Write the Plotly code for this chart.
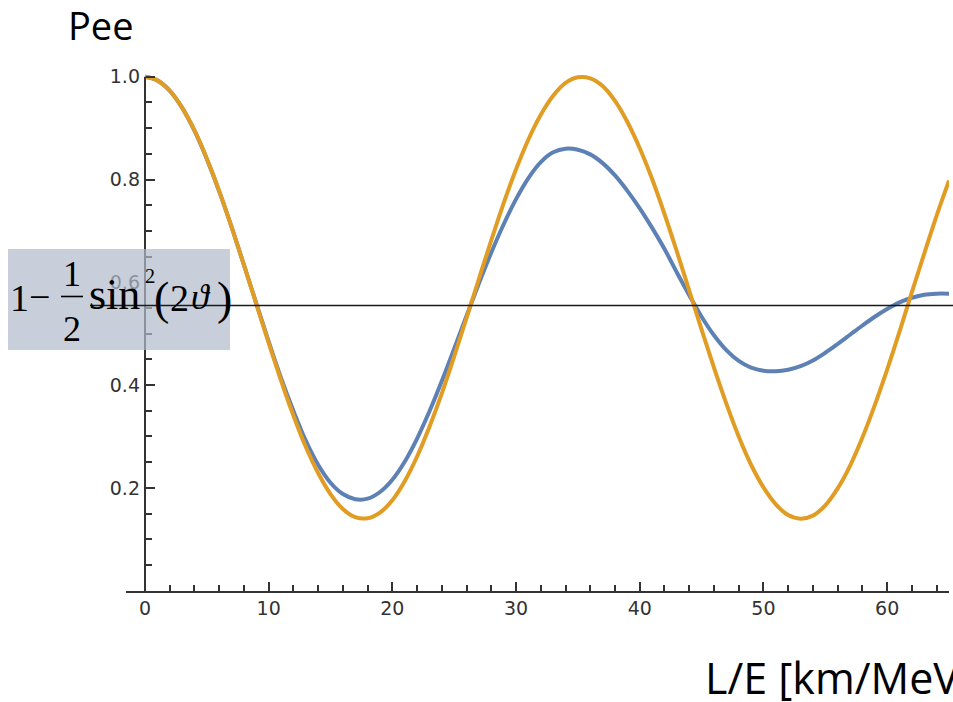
import plotly.graph_objects as go

# L/E grid in km/MeV
l_over_e = list(range(0, 66))

# Survival probability, monochromatic beam (orange)
pee_sharp = [
    1.000, 0.993, 0.973, 0.940, 0.896, 0.841, 0.778, 0.708, 0.634, 0.558,
    0.482, 0.409, 0.341, 0.280, 0.229, 0.188, 0.159, 0.143, 0.141, 0.152,
    0.176, 0.213, 0.261, 0.319, 0.384, 0.456, 0.531, 0.607, 0.682, 0.754,
    0.820, 0.878, 0.926, 0.963, 0.988, 0.999, 0.997, 0.982, 0.953, 0.912,
    0.861, 0.801, 0.733, 0.660, 0.584, 0.508, 0.434, 0.364, 0.300, 0.245,
    0.201, 0.168, 0.147, 0.140, 0.146, 0.166, 0.199, 0.243, 0.298, 0.361,
    0.430, 0.504, 0.581, 0.656, 0.730, 0.798,
]

# Survival probability averaged over the energy spread (blue)
pee_smeared = [
    1.000, 0.993, 0.973, 0.940, 0.895, 0.840, 0.777, 0.708, 0.634, 0.559,
    0.485, 0.414, 0.350, 0.292, 0.245, 0.210, 0.188, 0.178, 0.179, 0.192,
    0.216, 0.251, 0.296, 0.349, 0.408, 0.471, 0.535, 0.598, 0.658, 0.713,
    0.762, 0.803, 0.834, 0.853, 0.860, 0.858, 0.849, 0.832, 0.808, 0.778,
    0.744, 0.706, 0.665, 0.619, 0.575, 0.533, 0.497, 0.468, 0.447, 0.434,
    0.428, 0.427, 0.430, 0.437, 0.448, 0.463, 0.480, 0.498, 0.516, 0.533,
    0.548, 0.561, 0.570, 0.576, 0.578, 0.578,
]

# average level 1 - sin^2(2 theta)/2
mean_level = 0.555

y_ticks = [0.2, 0.4, 0.6, 0.8, 1.0]
y_tick_text = ["0.2", "0.4", "0.6", "0.8", "1.0"]

W, H = 953, 702


def px(x):
    return x / W


def py(y):
    return 1 - y / H


BLUE = "#5E81B5"
ORANGE = "#E19C24"
AXIS = "#333333"

fig = go.Figure()
fig.add_trace(go.Scatter(
    x=l_over_e, y=pee_smeared, mode="lines",
    line=dict(color=BLUE, width=4, shape="spline", smoothing=1.0),
    hoverinfo="skip", showlegend=False,
))
fig.add_trace(go.Scatter(
    x=l_over_e, y=pee_sharp, mode="lines",
    line=dict(color=ORANGE, width=4, shape="spline", smoothing=1.0),
    hoverinfo="skip", showlegend=False,
))

tick_font = dict(family="DejaVu Sans", size=19, color=AXIS)

fig.update_layout(
    width=W, height=H, autosize=False,
    margin=dict(l=0, r=0, t=0, b=0),
    paper_bgcolor="white", plot_bgcolor="white",
    xaxis=dict(
        range=[-1.5, 65], domain=[126.4 / W, 949 / W],
        tick0=0, dtick=10, ticks="inside", ticklen=9, tickwidth=1.6,
        tickcolor=AXIS, tickfont=tick_font,
        minor=dict(tick0=0, dtick=2, ticks="inside", ticklen=6,
                   tickwidth=1.6, tickcolor=AXIS),
        showgrid=False, zeroline=False,
        showline=True, linecolor=AXIS, linewidth=2,
    ),
    yaxis=dict(
        range=[0, 1.01], domain=[1 - 589.7 / H, 1 - 66.2 / H],
        anchor="free", position=145 / W,
        tickmode="array", tickvals=y_ticks, ticktext=y_tick_text,
        ticks="inside", ticklen=9, tickwidth=1.6, tickcolor=AXIS,
        tickfont=tick_font, ticklabelstandoff=5,
        minor=dict(tick0=0, dtick=0.05, ticks="inside", ticklen=6,
                   tickwidth=1.6, tickcolor=AXIS),
        showgrid=False, zeroline=False, showline=False,
    ),
)

shapes = [
    # vertical axis line from 0 to 1
    dict(type="line", xref="paper", yref="paper",
         x0=px(145), x1=px(145), y0=py(589.7), y1=py(71.4),
         line=dict(color=AXIS, width=2)),
    # formula panel
    dict(type="rect", xref="paper", yref="paper", layer="above",
         x0=px(8), x1=px(230), y0=py(347), y1=py(245),
         fillcolor="rgba(176,186,204,0.7)", line=dict(width=0)),
    # fraction bar
    dict(type="line", xref="paper", yref="paper", layer="above",
         x0=px(61), x1=px(83), y0=py(293), y1=py(293),
         line=dict(color="black", width=1.6)),
    # average level line
    dict(type="line", xref="paper", yref="y", layer="above",
         x0=px(90), x1=1.0, y0=mean_level, y1=mean_level,
         line=dict(color="#1a1a1a", width=1.6)),
]
fig.update_layout(shapes=shapes)

serif = "Liberation Serif"
ann = []


def add_text(text, x, y, size, family=serif, xanchor="center",
             yanchor="middle", color="black", **extra):
    ann.append(dict(text=text, x=px(x), y=py(y), xref="paper", yref="paper",
                    xanchor=xanchor, yanchor=yanchor, showarrow=False,
                    font=dict(family=family, size=size, color=color), **extra))


add_text("1", 19, 295, 38)
add_text("\u2212", 39, 294, 38)
add_text("1", 72, 270, 36)
add_text("2", 72, 326, 36)
add_text("sin", 87, 291, 44, xanchor="left")
add_text("2", 150, 272, 20)
add_text("(", 161, 295, 46)
add_text("2", 179, 295, 38)
add_text("<i>\u03d1</i>", 201, 294, 36)
add_text(")", 224, 295, 46)

sans = "Open Sans"
add_text("Pee", 66, 0, 38, family=sans, xanchor="left", yanchor="top",
         height=34, valign="middle")
add_text("L/E [km/MeV]", 703, 677, 43, family=sans, xanchor="left")

fig.update_layout(annotations=ann)

fig.write_html("out.html")
